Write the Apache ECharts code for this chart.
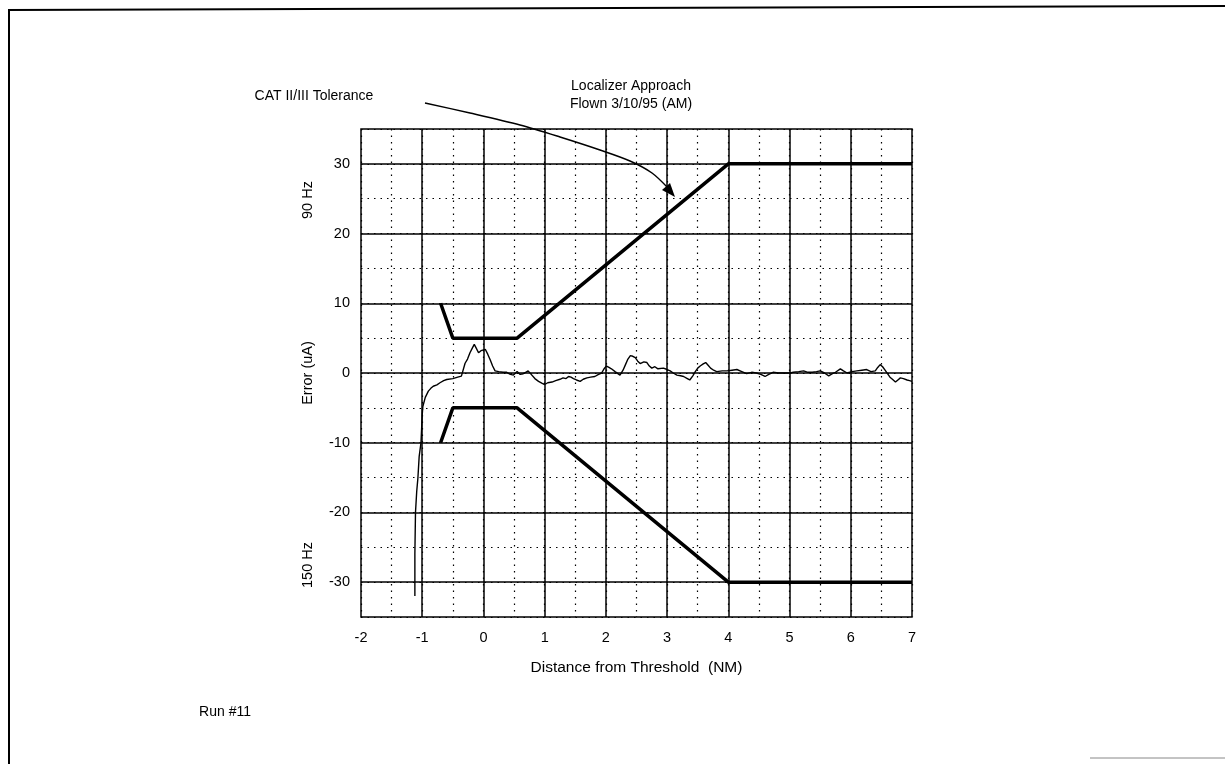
<!DOCTYPE html>
<html><head><meta charset="utf-8">
<script src="https://cdn.jsdelivr.net/npm/echarts@6/dist/echarts.min.js"></script>
<style>html,body{margin:0;padding:0;background:#fff}#c{width:1225px;height:764px}</style>
</head><body><div id="c"></div>
<script>
// ---- data ----
const titleLines = ['Localizer Approach', 'Flown 3/10/95 (AM)'];
const xTickLabels = [-2, -1, 0, 1, 2, 3, 4, 5, 6, 7];
const yTickLabels = [-30, -20, -10, 0, 10, 20, 30];
const upperTolX = [-0.7, -0.5, 0.55, 4, 7];
const upperTolY = [10, 5, 5, 30, 30];
const lowerTolX = [-0.7, -0.5, 0.55, 4, 7];
const lowerTolY = [-10, -5, -5, -30, -30];
const traceX = [-1.12,-1.12,-1.11,-1.09,-1.07,-1.05,-1.02,-1.0,-0.99,-0.95,-0.90,-0.86,-0.82,-0.76,-0.71,-0.65,-0.60,-0.5,-0.42,-0.36,-0.30,-0.26,-0.22,-0.18,-0.15,-0.12,-0.08,-0.04,0.03,0.07,0.11,0.15,0.19,0.25,0.32,0.38,0.44,0.49,0.55,0.60,0.65,0.69,0.73,0.78,0.84,0.90,0.96,1.0,1.05,1.12,1.18,1.25,1.30,1.35,1.39,1.43,1.47,1.52,1.58,1.63,1.69,1.75,1.82,1.88,1.93,1.97,2.01,2.05,2.09,2.15,2.23,2.28,2.32,2.36,2.40,2.44,2.48,2.52,2.56,2.62,2.67,2.71,2.75,2.80,2.85,2.94,3.00,3.05,3.10,3.16,3.22,3.27,3.33,3.37,3.42,3.46,3.50,3.54,3.59,3.63,3.67,3.71,3.76,3.81,3.90,3.98,4.06,4.14,4.22,4.30,4.38,4.46,4.53,4.60,4.66,4.73,4.82,4.90,5.01,5.06,5.15,5.23,5.30,5.37,5.44,5.50,5.57,5.64,5.70,5.75,5.83,5.88,5.94,6.02,6.10,6.18,6.26,6.33,6.40,6.44,6.48,6.52,6.56,6.60,6.64,6.68,6.73,6.77,6.81,6.86,6.92,6.96,7.0];
const traceY = [-32,-26,-20,-17,-15,-12,-10,-6,-4.8,-3.5,-2.6,-2.2,-1.9,-1.7,-1.4,-1.1,-0.93,-0.8,-0.6,-0.45,1.4,2.0,2.9,3.6,4.1,3.6,2.9,3.2,3.4,2.7,1.9,1.0,0.3,0.2,0.1,0.1,-0.2,-0.3,0.2,-0.2,-0.1,0.1,0.3,-0.2,-0.8,-1.2,-1.5,-1.65,-1.4,-1.3,-1.1,-0.9,-0.7,-0.8,-0.5,-0.6,-0.8,-1.0,-1.2,-0.9,-0.7,-0.6,-0.5,-0.2,0.0,0.6,1.0,0.8,0.6,0.2,-0.3,0.4,1.2,2.0,2.5,2.4,2.2,1.7,1.35,1.6,1.5,1.0,0.7,0.9,0.6,0.7,0.5,0.3,0.0,-0.3,-0.4,-0.5,-0.8,-1.0,-0.4,0.2,0.7,1.0,1.3,1.5,1.1,0.7,0.4,0.2,0.3,0.3,0.4,0.5,0.2,-0.1,0.1,0.0,-0.2,-0.5,-0.2,0.1,0.0,0.0,0.0,0.1,0.2,0.3,0.1,0.1,0.2,0.3,0.0,-0.4,-0.1,0.1,0.6,0.3,0.0,0.2,0.3,0.4,0.5,0.2,0.3,0.8,1.2,0.9,0.4,-0.1,-0.6,-0.9,-1.3,-1.0,-0.7,-0.8,-1.0,-1.1,-1.2];

const FONT = '"Liberation Sans Narrow", "Liberation Sans", Arial, sans-serif';
const zip = (xs, ys) => xs.map((x, i) => [x, ys[i]]);

const chart = echarts.init(document.getElementById('c'), null, {renderer: 'canvas'});
const solidX = xTickLabels.slice(1, -1).map(v => ({xAxis: v}));
const solidY = yTickLabels.map(v => ({yAxis: v}));

chart.setOption({
  animation: false,
  backgroundColor: '#fff',
  grid: {left: 361, right: 313, top: 129, bottom: 147, show: true, borderColor: '#000', borderWidth: 1.5, backgroundColor: 'transparent'},
  xAxis: {
    type: 'value', min: -2, max: 7, interval: 0.5,
    name: 'Distance from Threshold  (NM)', nameLocation: 'middle', nameGap: 43,
    nameTextStyle: {fontFamily: FONT, fontSize: 15.5, color: '#000'},
    axisLine: {show: false}, axisTick: {show: false},
    axisLabel: {margin: 13, fontFamily: FONT, fontSize: 14.5, color: '#000',
      formatter: v => (xTickLabels.indexOf(v) >= 0 ? String(v) : '')},
    splitLine: {show: true, lineStyle: {color: '#000', width: 1.2, type: [1.5, 5]}}
  },
  yAxis: {
    type: 'value', min: -35, max: 35, interval: 5,
    name: 'Error (uA)', nameLocation: 'middle', nameGap: 46, nameRotate: 90,
    nameTextStyle: {fontFamily: FONT, fontSize: 14.5, color: '#000'},
    axisLine: {show: false}, axisTick: {show: false},
    axisLabel: {margin: 11, fontFamily: FONT, fontSize: 14.5, color: '#000',
      formatter: v => (yTickLabels.indexOf(v) >= 0 ? String(v) : '')},
    splitLine: {show: true, lineStyle: {color: '#000', width: 1.2, type: [1.5, 5]}}
  },
  series: [
    {
      type: 'line', data: [], silent: true,
      markLine: {symbol: 'none', silent: true, label: {show: false},
        lineStyle: {color: '#000', width: 1.5, type: 'solid'},
        data: solidX.concat(solidY)}
    },
    {type: 'line', data: zip(upperTolX, upperTolY), symbol: 'none', lineStyle: {color: '#000', width: 3.5}},
    {type: 'line', data: zip(lowerTolX, lowerTolY), symbol: 'none', lineStyle: {color: '#000', width: 3.5}},
    {type: 'line', data: zip(traceX, traceY), symbol: 'none', lineStyle: {color: '#000', width: 1.4}}
  ],
  graphic: [
    {type: 'line', shape: {x1: 8, y1: 10, x2: 1225, y2: 6}, style: {stroke: '#000', lineWidth: 2}},
    {type: 'line', shape: {x1: 9, y1: 9, x2: 9, y2: 764}, style: {stroke: '#000', lineWidth: 2}},
    {type: 'line', shape: {x1: 1090, y1: 758, x2: 1225, y2: 758}, style: {stroke: '#888', lineWidth: 1}},
    {type: 'text', x: 631, y: 86, style: {text: titleLines[0], font: '14px ' + FONT, fill: '#000', align: 'center', verticalAlign: 'middle'}},
    {type: 'text', x: 631, y: 104, style: {text: titleLines[1], font: '14px ' + FONT, fill: '#000', align: 'center', verticalAlign: 'middle'}},
    {type: 'text', x: 314, y: 96, style: {text: 'CAT II/III Tolerance', font: '14px ' + FONT, fill: '#000', align: 'center', verticalAlign: 'middle'}},
    {type: 'text', x: 225, y: 712, style: {text: 'Run #11', font: '14px ' + FONT, fill: '#000', align: 'center', verticalAlign: 'middle'}},
    {type: 'text', x: 308, y: 200, rotation: Math.PI / 2, style: {text: '90 Hz', font: '14.5px ' + FONT, fill: '#000', align: 'center', verticalAlign: 'middle'}},
    {type: 'text', x: 308, y: 565, rotation: Math.PI / 2, style: {text: '150 Hz', font: '14.5px ' + FONT, fill: '#000', align: 'center', verticalAlign: 'middle'}},
    {type: 'polyline', shape: {points: [[425,103],[470,113],[520,125],[560,137],[600,150],[630,161],[652,173],[668,188]], smooth: 0.3}, style: {stroke: '#000', lineWidth: 1.5, fill: null}},
    {type: 'polygon', shape: {points: [[675,197],[662,190],[670,183]]}, style: {fill: '#000'}}
  ]
});
</script></body></html>
